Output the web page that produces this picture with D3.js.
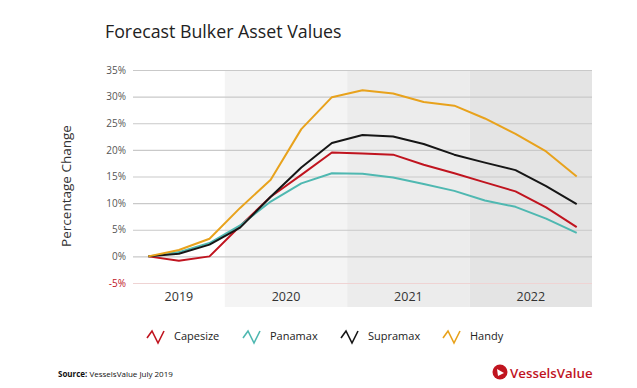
<!DOCTYPE html>
<html>
<head>
<meta charset="utf-8">
<script src="https://cdn.jsdelivr.net/npm/d3@7"></script>
<style>
  body { margin: 0; background: #fff; }
  svg { display: block; font-family: "Open Sans", "Lato", sans-serif; }
</style>
</head>
<body>
<div id="chart"></div>
<script>
// quarters Q2 2019 .. Q4 2022
const quarters = ["2019Q2", "2019Q3", "2019Q4",
  "2020Q1", "2020Q2", "2020Q3", "2020Q4",
  "2021Q1", "2021Q2", "2021Q3", "2021Q4",
  "2022Q1", "2022Q2", "2022Q3", "2022Q4"];
const years = ["2019", "2020", "2021", "2022"];
const yTicks = [-5, 0, 5, 10, 15, 20, 25, 30, 35];

const capesize = [0, -0.8, 0, 5.7, 11.2, 15.3, 19.5, 19.3, 19.1, 17.2, 15.6, 13.9, 12.2, 9.2, 5.5];
const panamax = [0, 0.8, 2.5, 5.8, 10.3, 13.7, 15.6, 15.5, 14.8, 13.6, 12.3, 10.5, 9.3, 7.1, 4.4];
const supramax = [0, 0.5, 2.2, 5.4, 11.2, 16.7, 21.3, 22.8, 22.5, 21.1, 19.1, 17.6, 16.2, 13.2, 9.8];
const handy = [0, 1.2, 3.3, 9.1, 14.4, 23.9, 29.9, 31.2, 30.6, 29.0, 28.3, 25.9, 23.0, 19.7, 15.0];

const series = [
  { name: "Capesize", values: capesize, color: "#c0141f" },
  { name: "Panamax", values: panamax, color: "#4fb8b1" },
  { name: "Supramax", values: supramax, color: "#161616" },
  { name: "Handy", values: handy, color: "#e8a21c" }
];
const yearFill = ["#ffffff", "#f4f4f4", "#ececec", "#e4e4e4"];

const width = 637, height = 388;
const plotLeft = 133, plotRight = 592, plotTop = 70, plotBottom = 283, bandBottom = 307;

const svg = d3.select("#chart").append("svg")
  .attr("width", width).attr("height", height);

// titulo
svg.append("text")
  .attr("x", 105).attr("y", 38)
  .attr("font-size", 17.8).attr("fill", "#222")
  .text("Forecast Bulker Asset Values");

const x = d3.scaleBand().domain(quarters).range([plotLeft, plotRight]);
const y = d3.scaleLinear().domain([-5, 35]).range([plotBottom, plotTop]);

// fondos por año
years.forEach((yr, i) => {
  const qs = quarters.filter((q) => q.startsWith(yr));
  const x0 = x(qs[0]);
  const x1 = x(qs[qs.length - 1]) + x.bandwidth();
  svg.append("rect")
    .attr("x", x0).attr("y", plotTop)
    .attr("width", x1 - x0).attr("height", bandBottom - plotTop)
    .attr("fill", yearFill[i]);
  svg.append("text")
    .attr("x", (x0 + x1) / 2).attr("y", 301)
    .attr("text-anchor", "middle")
    .attr("font-size", 12.5).attr("fill", "#333")
    .text(yr);
});

// eje y con lineas de grilla
const yAxis = svg.append("g")
  .attr("transform", `translate(${plotLeft},0)`)
  .call(d3.axisLeft(y).tickValues(yTicks)
    .tickSize(-(plotRight - plotLeft)).tickPadding(7)
    .tickFormat((d) => d + "%"));
yAxis.select(".domain").remove();
yAxis.selectAll(".tick line")
  .attr("stroke", (d) => d === -5 ? "#efd3d3" : "#c9c9c9")
  .attr("stroke-width", 1.2);
yAxis.selectAll(".tick text")
  .attr("font-size", 10)
  .attr("font-family", "Open Sans, sans-serif")
  .attr("fill", (d) => d === -5 ? "#c0141f" : "#555");

svg.append("text")
  .attr("transform", "translate(71,186) rotate(-90)")
  .attr("text-anchor", "middle")
  .attr("font-size", 13.5).attr("fill", "#333")
  .text("Percentage Change");

// lineas
const line = d3.line()
  .x((d, i) => x(quarters[i]) + x.bandwidth() / 2)
  .y((d) => y(d));

svg.selectAll(".series")
  .data(series)
  .enter()
  .append("path")
  .attr("d", (d) => line(d.values))
  .attr("fill", "none")
  .attr("stroke", (d) => d.color)
  .attr("stroke-width", 2)
  .attr("stroke-linejoin", "round");

// leyenda
const legendX = [147, 243, 341, 443];
const legend = svg.selectAll(".legend")
  .data(series)
  .enter()
  .append("g")
  .attr("transform", (d, i) => `translate(${legendX[i]},336)`);
legend.append("path")
  .attr("d", "M0,2 L5,-5 L11,7 L17,-5")
  .attr("fill", "none")
  .attr("stroke", (d) => d.color)
  .attr("stroke-width", 1.6);
legend.append("text")
  .attr("x", 27).attr("y", 4)
  .attr("font-size", 11).attr("fill", "#222")
  .text((d) => d.name);

// fuente
const src = svg.append("text")
  .attr("x", 58).attr("y", 377)
  .attr("font-size", 8).attr("fill", "#111");
src.append("tspan").attr("font-weight", "bold").text("Source:");
src.append("tspan").text(" VesselsValue July 2019");

// logo
const logo = svg.append("g").attr("transform", "translate(500,372)");
logo.append("circle").attr("r", 7.5).attr("fill", "#c0141f");
logo.append("path").attr("d", "M-3,-3 L4,1 L-2,4 Z").attr("fill", "#fff");
logo.append("text")
  .attr("x", 10).attr("y", 5.5)
  .attr("font-size", 13.3).attr("font-weight", 600)
  .attr("fill", "#c0141f")
  .text("VesselsValue");
</script>
</body>
</html>
